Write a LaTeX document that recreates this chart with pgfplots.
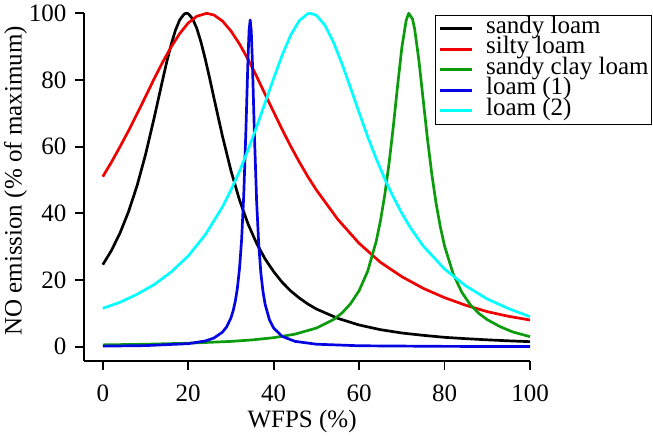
\documentclass[border=0pt]{standalone}
\usepackage{pgfplots}
\pgfplotsset{compat=1.18}
\usepackage{fontspec}
\setmainfont{Liberation Serif}

\definecolor{rgreen}{RGB}{12,155,12}
\definecolor{rblue}{RGB}{5,5,225}
\definecolor{rcyan}{RGB}{0,255,255}
\definecolor{rred}{RGB}{240,0,0}

\begin{document}
\begin{tikzpicture}[font=\fontsize{25bp}{29bp}\selectfont]
\begin{axis}[
  scale only axis, width=446bp, height=347.7bp,
  xmin=-4.4, xmax=100, ymin=-4.3, ymax=100,
  clip=false,
  axis x line*=bottom, axis y line*=left,
  axis line style={line width=1.8bp},
  tick align=outside, major tick length=9bp,
  every tick/.style={line width=1.8bp, black},
  xtick={0,20,...,100}, ytick={0,20,...,100},
  /pgf/number format/assume math mode=true,
  xticklabel style={yshift=-11bp},
  yticklabel style={xshift=-5bp},
  xlabel={WFPS (\%)},
  ylabel={NO emission (\% of maximum)},
  xlabel style={at={(axis description cs:0.489,-0.19)}, anchor=base},
  ylabel style={at={(axis description cs:-0.14,0.518)}, anchor=base},
  legend style={at={(axis description cs:0.787,0.995)}, anchor=north west,
    draw=black, line width=0.8bp, inner xsep=3bp, inner ysep=3bp,
    column sep=13bp,
    nodes={inner sep=0pt, text height=15bp, text depth=5.5bp, anchor=west}},
  legend cell align=left,
  legend image code/.code={\draw[#1] (0bp,0bp) -- (32bp,0bp);},
  every axis plot/.append style={line width=2.7bp, line join=round},
]
% sandy loam
\addplot[black] coordinates {
(0,24.6)(2,28.8)(4,34.0)(6,40.4)(8,48.2)(10,57.6)(12,68.5)(14,80.0)(15,85.6)(16,90.6)(17,94.9)(18,98.0)(19,99.7)(19.4,100)(20,99.9)(21,98.4)(22,95.5)(23,91.3)(24,86.2)(25,80.6)(26,74.7)(28,63.2)(30,52.8)(32,44.0)(34,36.8)(36,31.0)(38,26.3)(40,22.5)(42,19.3)(44,16.7)(46,14.6)(48,12.8)(50,11.3)(55,8.5)(60,6.5)(65,5.1)(70,4.1)(75,3.4)(80,2.8)(85,2.4)(90,2.05)(95,1.75)(100,1.5)
};
% silty loam
\addplot[rred] coordinates {
(0,51.0)(2,55.3)(4,59.9)(6,64.7)(8,69.8)(10,75.0)(12,80.3)(14,85.3)(16,89.9)(18,93.9)(20,97.1)(22,99.1)(24.3,100)(26,99.5)(28,97.7)(30,94.7)(32,90.8)(34,86.2)(36,81.1)(38,75.7)(40,70.4)(42,65.1)(44,60.1)(46,55.4)(48,51.0)(50,47.0)(55,38.2)(60,31.0)(65,25.3)(70,21.0)(75,17.5)(80,14.7)(85,12.4)(90,10.5)(95,9.1)(100,8.0)
};
% sandy clay loam
\addplot[rgreen] coordinates {
(0,0.54)(10,0.73)(20,1.04)(30,1.58)(35,2.03)(40,2.70)(45,3.76)(50,5.58)(54,8.14)(56,10.1)(58,12.9)(60,16.8)(62,22.6)(64,31.6)(65,37.8)(66,45.5)(67,54.9)(68,66.0)(69,78.2)(70,89.7)(71,97.8)(71.6,100)(72.5,98.3)(73,95.3)(74,85.8)(75,74.0)(76,62.3)(77,51.9)(78,43.1)(79,36.0)(80,30.2)(82,21.9)(84,16.4)(86,12.6)(88,10.0)(90,8.1)(93,6.0)(96,4.4)(100,3.0)
};
% loam (1)
\addplot[rblue] coordinates {
(0,0.16)(10,0.32)(20,0.90)(24,1.71)(26,2.59)(28,4.34)(29,5.96)(30,8.65)(30.5,10.7)(31,13.5)(31.5,17.5)(32,23.4)(32.5,32.2)(33,45.6)(33.5,64.9)(34,86.9)(34.25,95.0)(34.5,98)(34.75,94.8)(35,86.2)(35.5,63.3)(36,43.9)(36.5,30.7)(37,22.1)(37.5,16.5)(38,12.7)(39,8.1)(40,5.57)(42,3.08)(45,1.59)(50,0.74)(60,0.27)(80,0.09)(100,0.04)
};
% loam (2)
\addplot[rcyan] coordinates {
(0,11.5)(4,13.3)(8,15.7)(12,18.6)(16,22.4)(20,27.2)(24,33.6)(28,41.9)(30,47.0)(32,52.6)(34,59.0)(36,65.9)(38,73.2)(40,80.5)(42,87.5)(44,93.5)(46,97.8)(48,99.9)(48.6,100)(50,99.4)(52,96.4)(54,91.3)(56,84.8)(58,77.6)(60,70.2)(62,63.0)(64,56.4)(66,50.3)(68,44.9)(70,40.0)(72,35.7)(75,30.2)(80,23.3)(85,18.2)(90,14.3)(95,11.4)(100,9.0)
};
\legend{sandy loam, silty loam, sandy clay loam, loam (1), loam (2)}
\end{axis}
\path (-84bp,-69bp) rectangle (569bp,361bp);
\end{tikzpicture}
\end{document}
